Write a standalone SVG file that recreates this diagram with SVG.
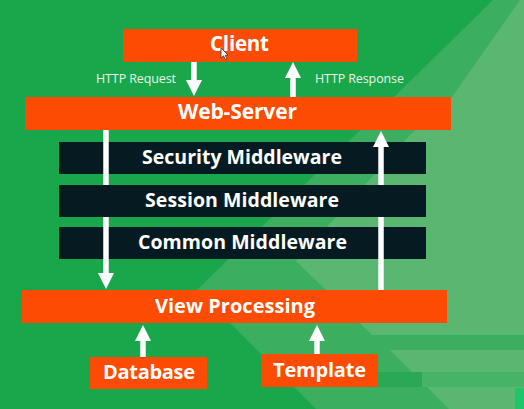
<svg xmlns="http://www.w3.org/2000/svg" width="524" height="409" viewBox="0 0 524 409">
  <defs>
    <style>
      .box { fill: #fc4b02; }
      .mw { fill: #051b21; }
      .lbl { font-family: "Open Sans", "Liberation Sans", sans-serif; font-weight: 700; fill: #ffffff; text-anchor: middle; }
      .note { font-family: "Open Sans", "Liberation Sans", sans-serif; font-weight: 400; font-size: 12.5px; fill: #e6f4e8; }
      .flow { stroke: #ffffff; stroke-width: 5.5; fill: none; marker-end: url(#head); }
    </style>
    <marker id="head" viewBox="0 0 16 16" refX="0" refY="8" markerWidth="16" markerHeight="16" markerUnits="userSpaceOnUse" orient="auto">
      <path d="M0,0 L16,8 L0,16 Z" fill="#ffffff"/>
    </marker>
  </defs>

  <!-- backdrop -->
  <g id="backdrop">
    <rect x="0" y="0" width="524" height="409" fill="#1aa74c"/>
    <polygon points="493,0 524,0 524,409 316,409 197,290" fill="#3bae5f"/>
    <polygon points="520,0 524,0 524,335 372,335 296,261 410,135 452,97" fill="#59b771"/>
    <polygon points="390,350 524,350 524,372 412,372" fill="#59b771"/>
    <rect x="378" y="372" width="146" height="15" fill="#46b366"/>
    <rect x="378" y="372" width="44" height="15" fill="#2aa856"/>
    <polygon points="427,387 524,387 524,409 449,409" fill="#59b771"/>
    <rect x="515" y="388" width="9" height="21" fill="#1ec56b"/>
  </g>

  <g id="client">
    <rect class="box" x="123" y="29" width="234" height="33"/>
    <text class="lbl" x="239.5" y="51" font-size="20.5" textLength="59">Client</text>
    <path d="M221,48 L221,58 L223.5,55.8 L225.5,59.5 L227,58.8 L225.2,55.3 L228,55 Z" fill="#ffffff" stroke="#333333" stroke-width="0.8"/>
  </g>

  <g id="web-server">
    <rect class="box" x="25" y="97" width="426" height="33"/>
    <text class="lbl" x="237.5" y="119" font-size="21" textLength="119">Web-Server</text>
  </g>

  <g id="security-middleware">
    <rect class="mw" x="59" y="142" width="367" height="32"/>
    <text class="lbl" x="242" y="164" font-size="19.5" textLength="200">Security Middleware</text>
  </g>

  <g id="common-middleware">
    <rect class="mw" x="59" y="227" width="367" height="32"/>
    <text class="lbl" x="242.5" y="249" font-size="19.5" textLength="209">Common Middleware</text>
  </g>

  <g id="view-processing">
    <rect class="box" x="22" y="290" width="425" height="33"/>
    <text class="lbl" x="235" y="312.5" font-size="20" textLength="160">View Processing</text>
  </g>

  <g id="database">
    <rect class="box" x="90" y="357" width="117" height="32"/>
    <text class="lbl" x="149" y="378.5" font-size="20" textLength="92">Database</text>
  </g>

  <g id="template">
    <rect class="box" x="261" y="354" width="117" height="33"/>
    <text class="lbl" x="319.5" y="376.5" font-size="20" textLength="93">Template</text>
  </g>

  <g id="connectors">
    <line class="flow" x1="194" y1="62" x2="194" y2="80"/>
    <text class="note" x="96" y="83" textLength="80">HTTP Request</text>
    <line class="flow" x1="293" y1="97" x2="293" y2="78"/>
    <text class="note" x="315" y="83" textLength="89">HTTP Response</text>
    <line class="flow" x1="106" y1="130" x2="106" y2="273"/>
    <line class="flow" x1="381" y1="290" x2="381" y2="147"/>
    <line class="flow" x1="143" y1="357" x2="143" y2="341"/>
    <line class="flow" x1="317" y1="354" x2="317" y2="341"/>
  </g>

  <!-- sits above the two long flow lines -->
  <g id="session-middleware">
    <rect class="mw" x="59" y="185" width="367" height="32"/>
    <text class="lbl" x="242" y="207" font-size="19.5" textLength="194">Session Middleware</text>
  </g>
</svg>
